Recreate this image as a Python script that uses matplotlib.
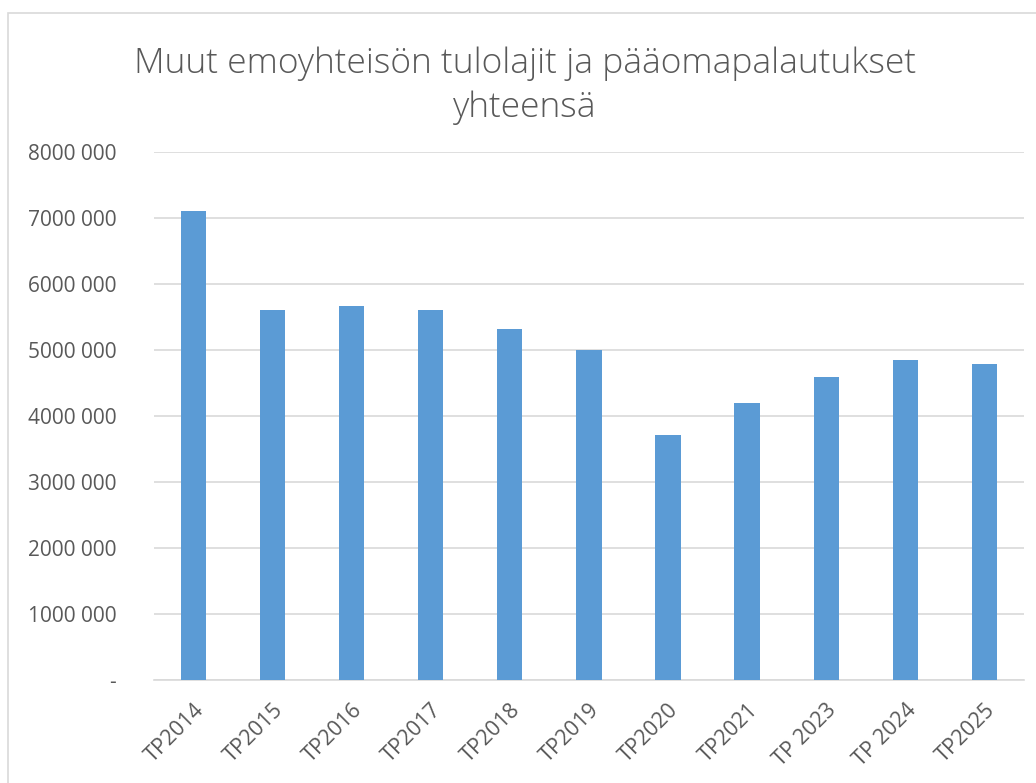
import matplotlib
matplotlib.use("Agg")
import matplotlib.pyplot as plt
from matplotlib.patches import Rectangle
from matplotlib.ticker import FuncFormatter, MultipleLocator

categories = ["TP2014", "TP2015", "TP2016", "TP2017", "TP2018", "TP2019",
              "TP2020", "TP2021", "TP 2023", "TP 2024", "TP2025"]
values = [7110000, 5600000, 5660000, 5600000, 5320000, 5005000,
          3710000, 4200000, 4585000, 4850000, 4790000]
title = "Muut emoyhteisön tulolajit ja pääomapalautukset\nyhteensä"

plt.rcParams['font.family'] = ['Open Sans', 'DejaVu Sans']
text_color = "#595959"
grid_color = "#d9d9d9"
bar_color = "#5B9BD5"

W, H = 1036, 783
fig = plt.figure(figsize=(W / 100, H / 100), dpi=100)
fig.patch.set_facecolor("white")

# outer chart border
fig.add_artist(Rectangle((8 / W, -0.05), 1.2, 1 - 13 / H + 0.05,
                         transform=fig.transFigure, fill=False,
                         edgecolor="#d9d9d9", linewidth=1.2))

ax = fig.add_axes([153.7 / W, 1 - 680 / H, (1024 - 153.7) / W, (680 - 152) / H])
x = range(len(categories))
ax.bar(x, values, width=0.32, color=bar_color, zorder=3)
ax.set_xlim(-0.5, len(categories) - 0.5)
ax.set_ylim(0, 8000000)
ax.yaxis.set_major_locator(MultipleLocator(1000000))


def fmt(v, pos):
    if v == 0:
        return "-"
    m = int(round(v))
    s = str(m)
    return s[:-3] + " " + s[-3:]


ax.yaxis.set_major_formatter(FuncFormatter(fmt))
ax.grid(axis="y", color=grid_color, linewidth=1.2, zorder=0)
for sp in ["top", "right", "left"]:
    ax.spines[sp].set_visible(False)
ax.spines["bottom"].set_color(grid_color)
ax.spines["bottom"].set_linewidth(1.2)
ax.tick_params(axis="both", length=0, colors=text_color)
ax.tick_params(axis="y", pad=27, labelsize=15)
ax.set_xticks(list(x))
ax.set_xticklabels(categories, rotation=45, ha="right", rotation_mode="anchor",
                   fontsize=15.5, color=text_color)
ax.tick_params(axis="x", pad=14)

fig.text(525 / W, 1 - 86 / H, title, ha="center", va="center",
         fontsize=25.5, color=text_color, linespacing=1.35, fontweight="light")

fig.savefig("out.png", dpi=100, facecolor="white")
